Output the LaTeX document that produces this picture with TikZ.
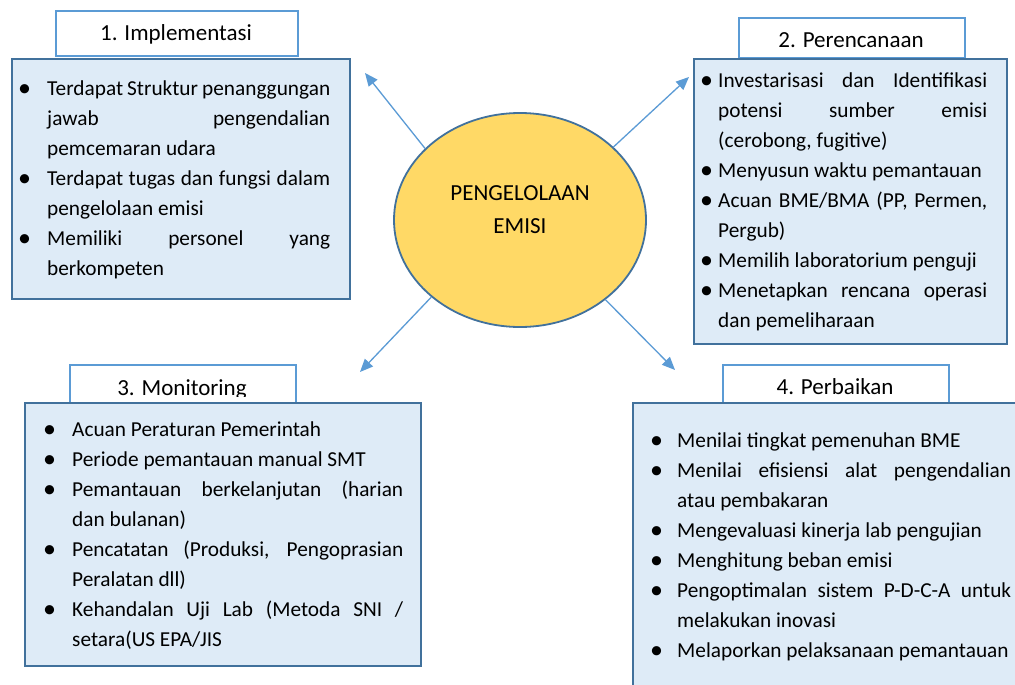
\documentclass[tikz,border=0pt]{standalone}
\usepackage{fontspec}
\setmainfont{Carlito}
\usetikzlibrary{arrows.meta,shapes.geometric}
\definecolor{boxfill}{HTML}{DEEBF7}
\definecolor{boxborder}{HTML}{41719C}
\definecolor{titleborder}{HTML}{5B9BD5}
\definecolor{arrowc}{HTML}{5B9BD5}
\definecolor{ellfill}{HTML}{FFD966}
\newlength\bind
\newcommand\bigbul{\raisebox{-1.2pt}{\fontsize{26}{30}\selectfont\textbullet}}
\newcommand\bitem{\par\noindent\hangindent=\bind\hangafter=1\strut\makebox[\bind][l]{\bigbul}}
\newcommand\bodyfont{\fontsize{21.3}{30}\selectfont\hyphenpenalty=10000\exhyphenpenalty=10000\tolerance=9999\relax}
\newcommand\ttlfont{\fontsize{23}{28}\selectfont}
\tikzset{
  mainbox/.style={draw=boxborder, fill=boxfill, line width=2pt, anchor=north west, inner sep=0pt},
  titlebox/.style={draw=titleborder, fill=white, line width=2pt, anchor=north west, inner sep=0pt},
  body/.style={anchor=north west, inner sep=0pt, align=justify, font=\bodyfont},
  ttl/.style={anchor=base, inner sep=0pt, font=\ttlfont},
  arr/.style={draw=arrowc, line width=1.3pt, -{Triangle[length=13pt,width=11pt]}},
}
\begin{document}
\begin{tikzpicture}[x=1pt,y=-1pt]
\fill[white] (0,0) rectangle (1015,685);
\path[use as bounding box, clip] (0,0) rectangle (1015,685);

% title boxes
\node[titlebox, minimum width=242pt, minimum height=45pt] (h1) at (55,10) {};
\node[titlebox, minimum width=226pt, minimum height=40pt] (h2) at (738,17) {};
\node[titlebox, minimum width=226pt, minimum height=40pt] (h3) at (69,364) {};
\node[titlebox, minimum width=226pt, minimum height=40pt] (h4) at (722,364) {};

\node[ttl] (h1t) at (176,41) {1. Implementasi};
\node[ttl] (h2t) at (851,48) {2. Perencanaan};
\begin{scope}
  \clip (69,364) rectangle (295,396);
  \node[ttl] (h3t) at (182,395) {3. Monitoring};
\end{scope}
\node[ttl] (h4t) at (835,394) {4. Perbaikan};

% main boxes
\node[mainbox, minimum width=338pt, minimum height=240pt] (b1) at (11,58) {};
\node[mainbox, minimum width=313pt, minimum height=285pt] (b2) at (693,58) {};
\node[mainbox, minimum width=396pt, minimum height=263pt] (b3) at (24,402) {};
\node[mainbox, minimum width=400pt, minimum height=300pt] (b4) at (632,402) {};

% body texts
\node[body, text width=312pt] (b1t) at (18,65) {\setlength\bind{29pt}%
\bitem Terdapat Struktur penanggungan\linebreak jawab pengendalian\linebreak pemcemaran udara
\bitem Terdapat tugas dan fungsi dalam\linebreak pengelolaan emisi
\bitem Memiliki personel yang\linebreak berkompeten\par};

\node[body, text width=287pt] (b2t) at (700,57) {\setlength\bind{18pt}%
\bitem Investarisasi dan Identifikasi\linebreak potensi sumber emisi\linebreak (cerobong, fugitive)
\bitem Menyusun waktu pemantauan
\bitem Acuan BME/BMA (PP, Permen,\linebreak Pergub)
\bitem Memilih laboratorium penguji
\bitem Menetapkan rencana operasi\linebreak dan pemeliharaan\par};

\node[body, text width=360pt] (b3t) at (43,406) {\setlength\bind{29pt}%
\bitem Acuan Peraturan Pemerintah
\bitem Periode pemantauan manual SMT
\bitem Pemantauan berkelanjutan (harian\linebreak dan bulanan)
\bitem Pencatatan (Produksi, Pengoprasian\linebreak Peralatan dll)
\bitem Kehandalan Uji Lab (Metoda SNI /\linebreak setara(US EPA/JIS\par};

\node[body, text width=361pt] (b4t) at (650,417) {\setlength\bind{27pt}%
\bitem Menilai tingkat pemenuhan BME
\bitem Menilai efisiensi alat pengendalian\linebreak atau pembakaran
\bitem Mengevaluasi kinerja lab pengujian
\bitem Menghitung beban emisi
\bitem Pengoptimalan sistem P-D-C-A untuk\linebreak melakukan inovasi
\bitem Melaporkan pelaksanaan pemantauan\par};

% centre ellipse
\node[ellipse, draw=boxborder, fill=ellfill, line width=1.8pt, minimum width=252pt, minimum height=214pt, inner sep=0pt] (e) at (520,220) {};
\node[align=center, inner sep=0pt, font={\fontsize{23}{33}\selectfont}] (et) at (520,210) {PENGELOLAAN\\EMISI};

% arrow tips
\coordinate (a1) at (365,73);
\coordinate (a2) at (689,77);
\coordinate (a3) at (360,372);
\coordinate (a4) at (675,370);
\draw[arr] (e.143.4) -- (a1);
\draw[arr] (e.38.5) -- (a2);
\draw[arr] (e.221.6) -- (a3);
\draw[arr] (e.317.4) -- (a4);
\end{tikzpicture}
\end{document}
